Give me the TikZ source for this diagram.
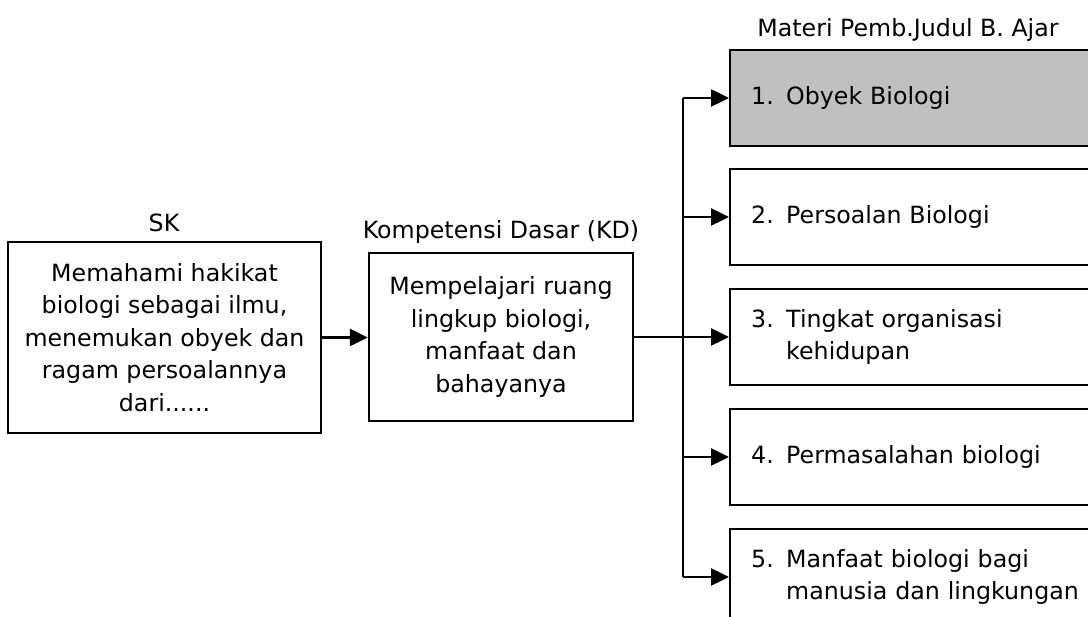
\documentclass[tikz,border=0pt]{standalone}
\usepackage{fontspec}
\setmainfont{DejaVu Sans}
\usetikzlibrary{arrows.meta}
\newcommand{\butir}[2]{\begin{tabular}{@{}p{0.7cm}@{}l@{}}#1 & #2\end{tabular}}
\definecolor{abu}{HTML}{C0C0C0}
\begin{document}
\begin{tikzpicture}[x=0.02cm, y=-0.02cm,
    every node/.style={font=\fontsize{13.5}{18.5}\selectfont},
    kotak/.style={draw, line width=1.4pt, align=center, inner sep=0pt},
    materi/.style={draw, line width=1.4pt, anchor=west, text width=7cm, align=left,
      inner xsep=0.42cm, inner ysep=0pt, minimum height=1.92cm},
    panah/.style={line width=1.4pt, -{Triangle[length=0.36cm, width=0.34cm]}},
    garis/.style={line width=1.4pt}]
  \useasboundingbox (0,0) rectangle (1088,617);
  \clip (0,0) rectangle (1088,617);
  \node (lblsk) at (164,223) {SK};
  \node[kotak, minimum width=6.26cm, minimum height=3.82cm] (sk) at (164.5,337.5)
    {Memahami hakikat\\biologi sebagai ilmu,\\menemukan obyek dan\\ragam persoalannya\\dari......};
  \node (lblkd) at (501,232) {Kompetensi Dasar (KD)};
  \node[kotak, minimum width=5.28cm, minimum height=3.36cm] (kd) at (501,337)
    {Mempelajari ruang\\lingkup biologi,\\manfaat dan\\bahayanya};
  \node (lblmateri) at (908,30) {Materi Pemb.Judul B. Ajar};
  \node[materi, fill=abu] (m1) at (729,98) {\butir{1.}{Obyek Biologi}};
  \node[materi] (m2) at (729,217) {\butir{2.}{Persoalan Biologi}};
  \node[materi] (m3) at (729,337) {\butir{3.}{Tingkat organisasi\\ & kehidupan}};
  \node[materi] (m4) at (729,457) {\butir{4.}{Permasalahan biologi}};
  \node[materi] (m5) at (729,577) {\butir{5.}{Manfaat biologi bagi\\ & manusia dan lingkungan}};
  \coordinate (cabang) at (683,337);
  \draw[panah] (sk.east) -- (sk.east -| kd.west);
  \draw[garis] (kd.east) -- (cabang);
  \draw[garis] (cabang |- m1.west) -- (cabang |- m5.west);
  \foreach \i in {1,...,5}
    \draw[panah] (cabang |- m\i.west) -- (m\i.west);
\end{tikzpicture}
\end{document}
